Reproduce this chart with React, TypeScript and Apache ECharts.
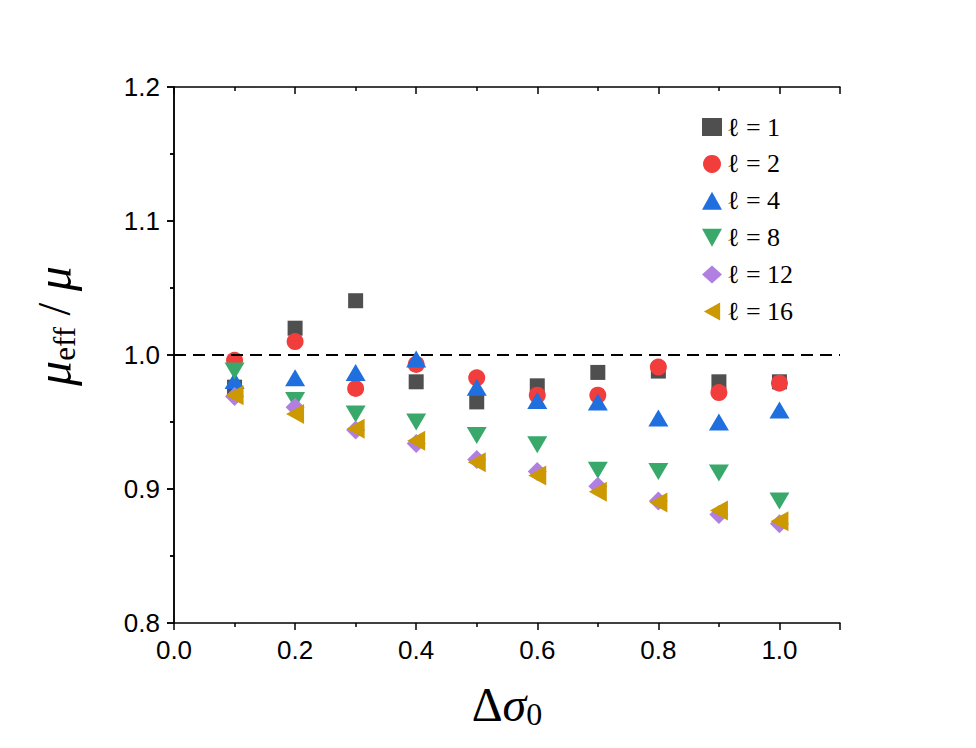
import React, { useEffect, useRef } from "react";
import * as echarts from "echarts";

const xValues = [0.1, 0.2, 0.3, 0.4, 0.5, 0.6, 0.7, 0.8, 0.9, 1.0];
const l1 = [0.976, 1.020, 1.0405, 0.980, 0.965, 0.977, 0.987, 0.988, 0.980, 0.980];
const l2 = [0.996, 1.010, 0.975, 0.993, 0.983, 0.970, 0.970, 0.991, 0.972, 0.979];
const l4 = [0.981, 0.983, 0.987, 0.997, 0.976, 0.966, 0.965, 0.953, 0.950, 0.959];
const l8 = [0.988, 0.966, 0.956, 0.950, 0.940, 0.933, 0.914, 0.913, 0.912, 0.891];
const l12 = [0.969, 0.961, 0.944, 0.934, 0.922, 0.913, 0.902, 0.891, 0.881, 0.874];
const l16 = [0.970, 0.956, 0.945, 0.936, 0.920, 0.910, 0.898, 0.890, 0.884, 0.876];
const seriesNames = ["ℓ = 1", "ℓ = 2", "ℓ = 4", "ℓ = 8", "ℓ = 12", "ℓ = 16"];
const seriesValues = [l1, l2, l4, l8, l12, l16];
const colors = ["#4f4f4f", "#f23d3d", "#1f6fdf", "#38a96b", "#b07fe0", "#cc9900"];
const symbols = [
  "rect",
  "circle",
  "path://M5,0 L10,9 L0,9 Z",
  "path://M0,0 L10,0 L5,9 Z",
  "diamond",
  "path://M0,5 L9,0 L9,10 Z",
];
const symbolSizes: any[] = [15, 17, [20, 17], [20, 17], 19, [18, 20]];

export default function App() {
  const ref = useRef<HTMLDivElement>(null);
  useEffect(() => {
    const chart = echarts.init(ref.current!, undefined, { renderer: "svg" });
    const axisLine = { show: true, lineStyle: { color: "#000", width: 1.5 } };
    const labelFont = {
      fontFamily: "'Liberation Sans Narrow', 'Liberation Sans', Arial, sans-serif",
      fontSize: 26,
      color: "#000",
    };
    const series: any[] = seriesValues.map((vals, i) => ({
      name: seriesNames[i],
      type: "scatter",
      symbol: symbols[i],
      symbolSize: symbolSizes[i],
      itemStyle: { color: colors[i], opacity: 1 },
      data: xValues.map((x, j) => [x, vals[j]]),
      z: 3 + i,
    }));
    series[0].markLine = {
      silent: true,
      symbol: "none",
      label: { show: false },
      lineStyle: { color: "#000", type: [12, 7], width: 2 },
      data: [{ yAxis: 1.0 }],
    };
    const tickStyle = { color: "#000", width: 1.5 };
    chart.setOption({
      animation: false,
      backgroundColor: "#fff",
      grid: { left: 174, right: 136, top: 87, bottom: 125 },
      legend: {
        orient: "vertical",
        left: 697,
        top: 109,
        itemWidth: 20,
        itemHeight: 18,
        itemGap: 10.9,
        textStyle: {
          fontFamily: "'Liberation Serif', 'DejaVu Serif', serif",
          fontSize: 26,
          lineHeight: 25.5,
          color: "#000",
        },
        data: seriesNames,
      },
      graphic: [
        {
          type: "text",
          x: 54,
          y: 326,
          rotation: Math.PI / 2,
          style: {
            text: "{m|μ}{e|eff}{sl| / }{m|μ}",
            align: "center",
            verticalAlign: "middle",
            rich: {
              m: { fontFamily: "'Liberation Serif', serif", fontStyle: "italic", fontSize: 50, fill: "#000" },
              e: { fontFamily: "'Liberation Serif', serif", fontSize: 31, fill: "#000", padding: [21, 0, 0, 0] },
              sl: { fontFamily: "'Liberation Serif', serif", fontSize: 46, fill: "#000" },
            },
          },
        },
      ],
      xAxis: [
        {
          type: "value",
          min: 0,
          max: 1.1,
          interval: 0.2,
          position: "bottom",
          axisLine,
          splitLine: { show: false },
          axisTick: { show: true, length: 7, lineStyle: tickStyle },
          minorTick: { show: true, splitNumber: 2, length: 4, lineStyle: tickStyle },
          axisLabel: {
            ...labelFont,
            margin: 14,
            formatter: (v: number) => (v > 1.05 ? "" : v.toFixed(1)),
          },
          name: "{d|Δ}{s|σ}{z|0}",
          nameLocation: "middle",
          nameGap: 55,
          nameTextStyle: {
            rich: {
              d: { fontFamily: "'Liberation Serif', serif", fontSize: 48, color: "#000" },
              s: { fontFamily: "'Liberation Serif', serif", fontStyle: "italic", fontSize: 48, color: "#000" },
              z: { fontFamily: "'Liberation Serif', serif", fontSize: 32, color: "#000", padding: [20, 0, 0, 0] },
            },
          },
        },
        {
          type: "value",
          min: 0,
          max: 1.1,
          interval: 0.2,
          position: "top",
          axisLine,
          splitLine: { show: false },
          axisTick: { show: true, inside: true, length: 7, lineStyle: tickStyle },
          minorTick: { show: true, splitNumber: 2, length: 4, lineStyle: tickStyle },
          axisLabel: { show: false },
        },
      ],
      yAxis: [
        {
          type: "value",
          min: 0.8,
          max: 1.2,
          interval: 0.1,
          position: "left",
          axisLine,
          splitLine: { show: false },
          axisTick: { show: true, length: 7, lineStyle: tickStyle },
          minorTick: { show: true, splitNumber: 2, length: 4, lineStyle: tickStyle },
          axisLabel: { ...labelFont, margin: 14, formatter: (v: number) => v.toFixed(1) },
        },
        {
          type: "value",
          min: 0.8,
          max: 1.2,
          interval: 0.1,
          position: "right",
          axisLine,
          splitLine: { show: false },
          axisTick: { show: true, inside: true, length: 7, lineStyle: tickStyle },
          minorTick: { show: true, splitNumber: 2, length: 4, lineStyle: tickStyle },
          axisLabel: { show: false },
        },
      ],
      series,
    });
    return () => chart.dispose();
  }, []);
  return (
    <div
      ref={ref}
      style={{ position: "absolute", left: 0, top: 0, width: 976, height: 748 }}
    />
  );
}
